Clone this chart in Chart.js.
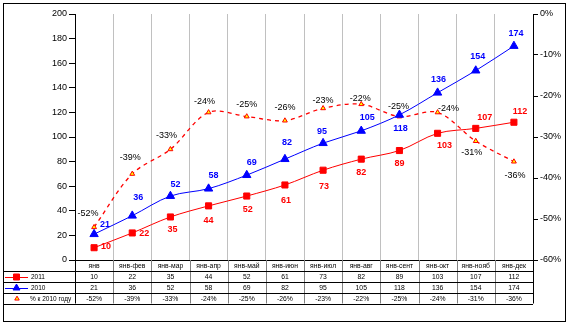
<!DOCTYPE html>
<html><head><meta charset="utf-8">
<script src="https://cdn.jsdelivr.net/npm/chart.js@4"></script>
<style>html,body{margin:0;padding:0;background:#fff}canvas{display:block}</style>
</head><body>
<canvas id="c" width="568" height="324"></canvas>
<script>
const categories = ['янв','янв-фев','янв-мар','янв-апр','янв-май','янв-июн','янв-июл','янв-авг','янв-сент','янв-окт','янв-нояб','янв-дек'];
const series2011 = [10,22,35,44,52,61,73,82,89,103,107,112];
const series2010 = [21,36,52,58,69,82,95,105,118,136,154,174];
const pctTo2010 = [-52,-39,-33,-24,-25,-26,-23,-22,-25,-24,-31,-36];
const seriesNames = ['2011','2010','% к 2010 году'];
const leftTickValues = [0,20,40,60,80,100,120,140,160,180,200];
const rightTickValues = [0,-10,-20,-30,-40,-50,-60];

// label placement (style): offset of label centre from its point
const off2011 = [[12,-1],[12,1],[2,13],[0,15],[1,13],[1,16],[1,16],[0,13],[0,13],[7,12.5],[9,-11],[6,-11]];
const off2010 = [[11,-10],[6,-18],[5,-12],[5,-13],[5,-13],[2,-17],[-1,-12],[6,-13],[1,14],[1,-13],[2,-14],[2,-12]];
const offPct  = [[-6,-14],[-2,-16],[-4,-14],[-4,-11],[0,-12],[0,-13],[0,-8],[-1,-6],[-1,-10],[11,-4],[-4,11],[1,14]];

const FONT = '"Liberation Sans", Arial, sans-serif';
const RED = '#ff0000', BLUE = '#0000ff';

const pct = v => v + '%';

const labelPlugin = {
  id: 'labels',
  afterDatasetsDraw(chart) {
    const ctx = chart.ctx;
    const cfg = [
      {offs: off2011, color: RED, font: 'bold 9px ' + FONT, fmt: v => String(v)},
      {offs: off2010, color: BLUE, font: 'bold 9px ' + FONT, fmt: v => String(v)},
      {offs: offPct, color: '#000', font: '9px ' + FONT, fmt: pct}
    ];
    ctx.save();
    ctx.textAlign = 'center';
    ctx.textBaseline = 'middle';
    chart.data.datasets.forEach((ds, di) => {
      const meta = chart.getDatasetMeta(di);
      const c = cfg[di];
      ctx.fillStyle = c.color;
      ctx.font = c.font;
      meta.data.forEach((el, i) => {
        const o = c.offs[i];
        ctx.fillText(c.fmt(ds.data[i]), el.x + o[0], el.y + o[1]);
      });
    });
    ctx.restore();
  }
};

function drawMarker(ctx, style, x, y, r, fill, stroke) {
  ctx.save();
  ctx.fillStyle = fill; ctx.strokeStyle = stroke; ctx.lineWidth = 1;
  ctx.beginPath();
  if (style === 'rect') {
    ctx.rect(x - r, y - r, 2 * r, 2 * r);
  } else {
    ctx.moveTo(x, y - r);
    ctx.lineTo(x + r * 0.866, y + r * 0.5);
    ctx.lineTo(x - r * 0.866, y + r * 0.5);
    ctx.closePath();
  }
  ctx.fill(); ctx.stroke();
  ctx.restore();
}

const tablePlugin = {
  id: 'table',
  afterDraw(chart) {
    const ctx = chart.ctx, a = chart.chartArea, xs = chart.scales.x;
    const n = categories.length, w = (a.right - a.left) / n;
    const top = a.bottom;
    const rows = [top, top + 11, top + 22, top + 33, top + 43.5];
    const px = v => Math.round(v) + 0.5;
    ctx.save();
    // vertical separators
    ctx.strokeStyle = '#808080'; ctx.lineWidth = 1;
    for (let i = 1; i < n; i++) {
      const x = px(a.left + i * w);
      ctx.beginPath(); ctx.moveTo(x, rows[0]); ctx.lineTo(x, rows[4]); ctx.stroke();
    }
    ctx.strokeStyle = '#000';
    [a.left, a.right].forEach(xv => {
      const x = px(xv);
      ctx.beginPath(); ctx.moveTo(x, rows[0]); ctx.lineTo(x, rows[4]); ctx.stroke();
    });
    // horizontal lines
    for (let r = 1; r < rows.length; r++) {
      const y = px(rows[r]);
      ctx.beginPath(); ctx.moveTo(3, y); ctx.lineTo(a.right, y); ctx.stroke();
    }
    // texts
    ctx.fillStyle = '#000';
    ctx.font = '6.8px ' + FONT;
    ctx.textAlign = 'center'; ctx.textBaseline = 'middle';
    const rowData = [categories, series2011.map(String), series2010.map(String), pctTo2010.map(pct)];
    rowData.forEach((arr, r) => {
      const yc = (rows[r] + rows[r + 1]) / 2 + 0.5;
      arr.forEach((t, i) => ctx.fillText(t, xs.getPixelForValue(i), yc));
    });
    // legend keys
    ctx.textAlign = 'left';
    ctx.font = '6.5px ' + FONT;
    const ds = chart.data.datasets;
    for (let r = 0; r < 3; r++) {
      const yc = (rows[r + 1] + rows[r + 2]) / 2 + 0.5;
      const d = ds[r];
      if (r < 2) {
        ctx.strokeStyle = d.borderColor; ctx.lineWidth = 1;
        ctx.beginPath(); ctx.moveTo(5, Math.round(yc) + 0.5); ctx.lineTo(28, Math.round(yc) + 0.5); ctx.stroke();
        if (r === 0) drawMarker(ctx, 'rect', 16.5, yc, 3, RED, RED);
        else drawMarker(ctx, 'tri', 16.5, yc, 4, BLUE, BLUE);
      } else {
        drawMarker(ctx, 'tri', 17, yc, 2.6, '#ffff00', RED);
      }
      ctx.fillStyle = '#000';
      ctx.fillText(seriesNames[r], r < 2 ? 31 : 30, yc);
    }
    // outer frame
    ctx.strokeStyle = '#000'; ctx.lineWidth = 1;
    ctx.strokeRect(3.5, 3.5, 562, 318);
    ctx.restore();
  }
};

const bgPlugin = {
  id: 'bg',
  beforeDraw(chart) {
    const ctx = chart.ctx;
    ctx.save(); ctx.fillStyle = '#fff'; ctx.fillRect(0, 0, chart.width, chart.height); ctx.restore();
  }
};

new Chart(document.getElementById('c'), {
  type: 'line',
  data: {
    labels: categories,
    datasets: [
      {label: seriesNames[0], data: series2011, yAxisID: 'y', borderColor: RED, backgroundColor: RED,
       borderWidth: 1, pointStyle: 'rect', pointRadius: 4.3, pointBorderWidth: 1, pointBorderColor: RED, tension: 0.33},
      {label: seriesNames[1], data: series2010, yAxisID: 'y', borderColor: BLUE, backgroundColor: BLUE,
       borderWidth: 1, pointStyle: 'triangle', pointRadius: 4.8, pointBorderWidth: 1, pointBorderColor: BLUE, tension: 0.33},
      {label: seriesNames[2], data: pctTo2010, yAxisID: 'y1', borderColor: RED, backgroundColor: '#ffff00',
       pointBorderColor: RED, borderWidth: 1.3, borderDash: [4, 4], pointStyle: 'triangle', pointRadius: 2.8,
       pointBorderWidth: 1, tension: 0.33}
    ]
  },
  options: {
    responsive: false, animation: false, devicePixelRatio: 1,
    layout: {padding: {top: 14, bottom: 64, left: 0, right: 0}},
    plugins: {legend: {display: false}, tooltip: {enabled: false}},
    scales: {
      x: {
        offset: true,
        grid: {offset: true, color: '#c0c0c0', drawTicks: false, lineWidth: 1},
        border: {display: true, color: '#000'},
        ticks: {display: false},
        afterFit: s => { s.height = 0; }
      },
      y: {
        position: 'left', min: 0, max: 200,
        afterBuildTicks: s => { s.ticks = leftTickValues.map(v => ({value: v})); },
        grid: {drawOnChartArea: false, color: '#000', tickLength: 6},
        border: {color: '#000'},
        ticks: {color: '#000', font: {family: FONT, size: 9}, padding: 2},
        afterFit: s => { s.width = 75; }
      },
      y1: {
        position: 'right', min: -60, max: 0,
        afterBuildTicks: s => { s.ticks = rightTickValues.map(v => ({value: v})); },
        grid: {drawOnChartArea: false, color: '#000', tickLength: 5},
        border: {color: '#000'},
        ticks: {color: '#000', font: {family: FONT, size: 9}, padding: 2, callback: v => pct(v)},
        afterFit: s => { s.width = 35; }
      }
    }
  },
  plugins: [bgPlugin, labelPlugin, tablePlugin]
});
</script>
</body></html>
